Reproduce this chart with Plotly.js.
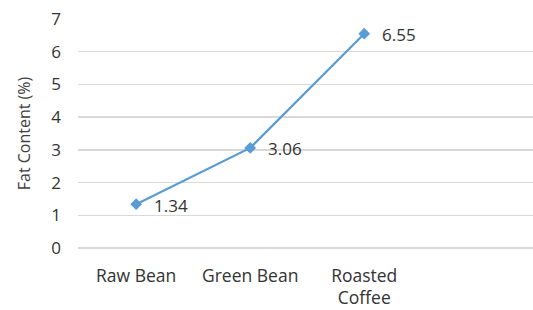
<!DOCTYPE html>
<html>
<head>
<meta charset="utf-8">
<script src="https://cdn.plot.ly/plotly-3.0.1.min.js"></script>
<style>html,body{margin:0;padding:0;background:#fff;}#chart{width:533px;height:310px;}</style>
</head>
<body>
<div id="chart"></div>
<script>
const categories = ["Raw Bean", "Green Bean", "Roasted<br>Coffee"];
const fatContent = [1.34, 3.06, 6.55];
const valueLabels = ["1.34", "3.06", "6.55"];
const yTicks = [0, 1, 2, 3, 4, 5, 6, 7];

const xIdx = categories.map((c, i) => i);
const font = "Open Sans, Liberation Sans, sans-serif";

const trace = {
  x: xIdx,
  y: fatContent,
  type: "scatter",
  mode: "lines+markers",
  line: {color: "#5B9BD5", width: 2.25},
  marker: {symbol: "diamond", size: 9, color: "#5B9BD5"},
  hoverinfo: "skip",
  cliponaxis: false
};

const annotations = xIdx.map((x, i) => ({
  x: x, y: fatContent[i], xref: "x", yref: "y",
  text: valueLabels[i], showarrow: false,
  xanchor: "left", yanchor: "middle", xshift: 16, yshift: -1,
  font: {family: font, size: 17, color: "#333333"}
}));

const layout = {
  width: 533, height: 310,
  margin: {l: 78, r: 0, t: 19, b: 62},
  paper_bgcolor: "#fff", plot_bgcolor: "#fff",
  showlegend: false,
  xaxis: {
    range: [-0.51, 3.48],
    tickmode: "array", tickvals: xIdx, ticktext: categories,
    showgrid: false, zeroline: false, showline: false, ticks: "",
    ticklabelstandoff: 15,
    tickfont: {family: font, size: 17.5, color: "#333333"},
    fixedrange: true
  },
  yaxis: {
    range: [0, 7],
    tickmode: "array", tickvals: yTicks,
    showgrid: true, gridcolor: "#d9d9d9", gridwidth: 1.5,
    zeroline: true, zerolinecolor: "#d9d9d9", zerolinewidth: 1.5,
    showline: false, ticks: "", ticklen: 0,
    ticklabelstandoff: 16,
    tickfont: {family: font, size: 17, color: "#333333"},
    title: {text: "Fat Content (%)", font: {family: font, size: 16, color: "#404040"}, standoff: 16},
    fixedrange: true
  },
  annotations: annotations
};

Plotly.newPlot("chart", [trace], layout, {displayModeBar: false, staticPlot: true});
</script>
</body>
</html>
